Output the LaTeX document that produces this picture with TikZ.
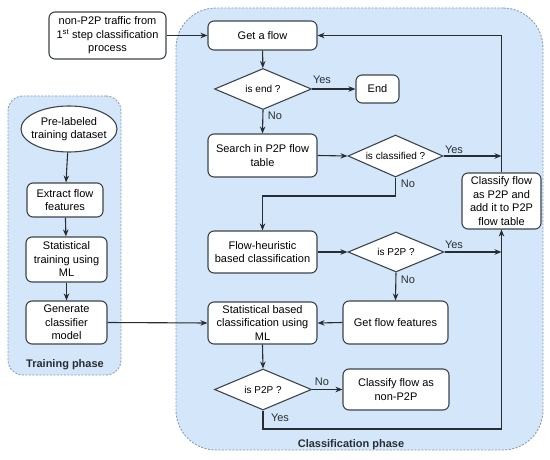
\documentclass[tikz,border=0pt]{standalone}
\usepackage{fontspec}
\setmainfont{Liberation Sans}
\usetikzlibrary{shapes.geometric,arrows.meta}
\definecolor{phasefill}{RGB}{212,231,250}
\definecolor{phaseline}{RGB}{135,155,178}
\definecolor{boxline}{RGB}{60,68,76}
\definecolor{arrline}{RGB}{40,45,50}
\begin{document}
\begin{tikzpicture}[x=1pt,y=-1pt,
 phase/.style={draw=phaseline, fill=phasefill, dash pattern=on 2pt off 1.5pt, line width=0.9pt, inner sep=0pt},
 box/.style={draw=boxline, fill=white, rounded corners=6pt, line width=1.1pt, align=center, inner sep=0pt, font=\fontsize{11}{13.5}\selectfont},
 dec/.style={draw=boxline, fill=white, diamond, aspect=2.3, inner sep=0pt, line width=1.1pt, font=\fontsize{10}{12}\selectfont},
 arr/.style={draw=arrline, line width=1.1pt, -{Stealth[length=7pt,width=5.5pt]}},
 lbl/.style={font=\fontsize{11}{13}\selectfont, text=arrline, inner sep=0pt},
 plbl/.style={font=\fontsize{11}{13}\selectfont\bfseries, text=arrline, inner sep=0pt}
]
\useasboundingbox (0,0) rectangle (550,460);
% phases
\node[phase, rounded corners=40pt, minimum width=367pt, minimum height=442pt] (clsphase) at (359.5,229) {};
\node[phase, rounded corners=15pt, minimum width=113pt, minimum height=279pt] (trphase) at (64.5,235.5) {};
\node[plbl] (trlabel) at (65,365) {Training phase};
\node[plbl] (clslabel) at (351,445) {Classification phase};
% training nodes
\node[draw=boxline, fill=white, ellipse, line width=1.1pt, minimum width=96pt, minimum height=46pt, inner xsep=-15pt, inner ysep=0pt, align=center, font=\fontsize{11}{13.5}\selectfont] (pre) at (69,129) {Pre-labeled\\training dataset};
\node[box, minimum width=76pt, minimum height=34pt] (extract) at (65,200) {Extract flow\\features};
\node[box, minimum width=81pt, minimum height=45pt] (sttrain) at (66.5,259.5) {Statistical\\training using\\ML};
\node[box, minimum width=81pt, minimum height=43pt] (gen) at (66.5,322.5) {Generate\\classifier\\model};
% classification nodes
\node[box, minimum width=117pt, minimum height=47pt] (src) at (107.5,35.5) {non-P2P traffic from\\1\textsuperscript{st} step classification\\process};
\node[box, minimum width=109pt, minimum height=29pt] (get) at (262.5,35.5) {Get a flow};
\node[dec, minimum width=97pt, minimum height=41pt] (isend) at (263,89) {is end ?};
\node[box, minimum width=43pt, minimum height=28pt] (endn) at (377.5,89) {End};
\node[box, minimum width=109pt, minimum height=43pt] (search) at (262.5,155.5) {Search in P2P flow\\table};
\node[dec, minimum width=95pt, minimum height=42pt] (iscls) at (395.5,156) {is classified ?};
\node[box, minimum width=79pt, minimum height=56pt] (cp2p) at (501.5,201) {Classify flow\\as P2P and\\add it to P2P\\flow table};
\node[box, minimum width=109pt, minimum height=42pt] (heur) at (262.5,252) {Flow-heuristic\\based classification};
\node[dec, minimum width=96pt, minimum height=40pt] (isp2pa) at (396,252) {is P2P ?};
\node[box, minimum width=109pt, minimum height=42pt] (stat) at (262.5,323) {Statistical based\\classification using\\ML};
\node[box, minimum width=105pt, minimum height=43pt] (gff) at (395.5,322.5) {Get flow features};
\node[dec, minimum width=97pt, minimum height=41pt] (isp2pb) at (263,389.5) {is P2P ?};
\node[box, minimum width=106pt, minimum height=41pt] (nonp2p) at (396,389.5) {Classify flow as\\non-P2P};
\coordinate (nojoin) at (395.5,196);
\coordinate (yesjoin) at (263,429);
% connectors
\draw[arr] (pre) -- (extract);
\draw[arr] (extract) -- (sttrain);
\draw[arr] (sttrain) -- (gen);
\draw[arr] (gen.east) -- (stat.west);
\draw[arr] (src.east) -- (get.west);
\draw[arr] (get) -- (isend);
\draw[arr] (isend.east) -- (endn.west);
\draw[arr] (isend.south) -- (search.north);
\draw[arr] (search.east) -- (iscls.west);
\draw[arr] (iscls.east) -- (iscls.east -| cp2p.north);
\draw[arr] (iscls.south) -- (nojoin) -| (heur.north);
\draw[arr] (heur.east) -- (isp2pa.west);
\draw[arr] (isp2pa.east) -- (isp2pa.east -| cp2p.south);
\draw[arr] (isp2pa.south) -- (gff.north);
\draw[arr] (gff.west) -- (stat.east);
\draw[arr] (stat.south) -- (isp2pb.north);
\draw[arr] (isp2pb.east) -- (nonp2p.west);
\draw[arr] (isp2pb.south) -- (yesjoin) -| (cp2p.south);
\draw[arr] (cp2p.north) |- (get.east);
% labels
\node[lbl] (y1) at (322,80) {Yes};
\node[lbl] (n1) at (275,116) {No};
\node[lbl] (y2) at (454,150) {Yes};
\node[lbl] (n2) at (408,184) {No};
\node[lbl] (y3) at (454,245) {Yes};
\node[lbl] (n3) at (408,280) {No};
\node[lbl] (n4) at (322,382) {No};
\node[lbl] (y4) at (280,418) {Yes};
\end{tikzpicture}
\end{document}
